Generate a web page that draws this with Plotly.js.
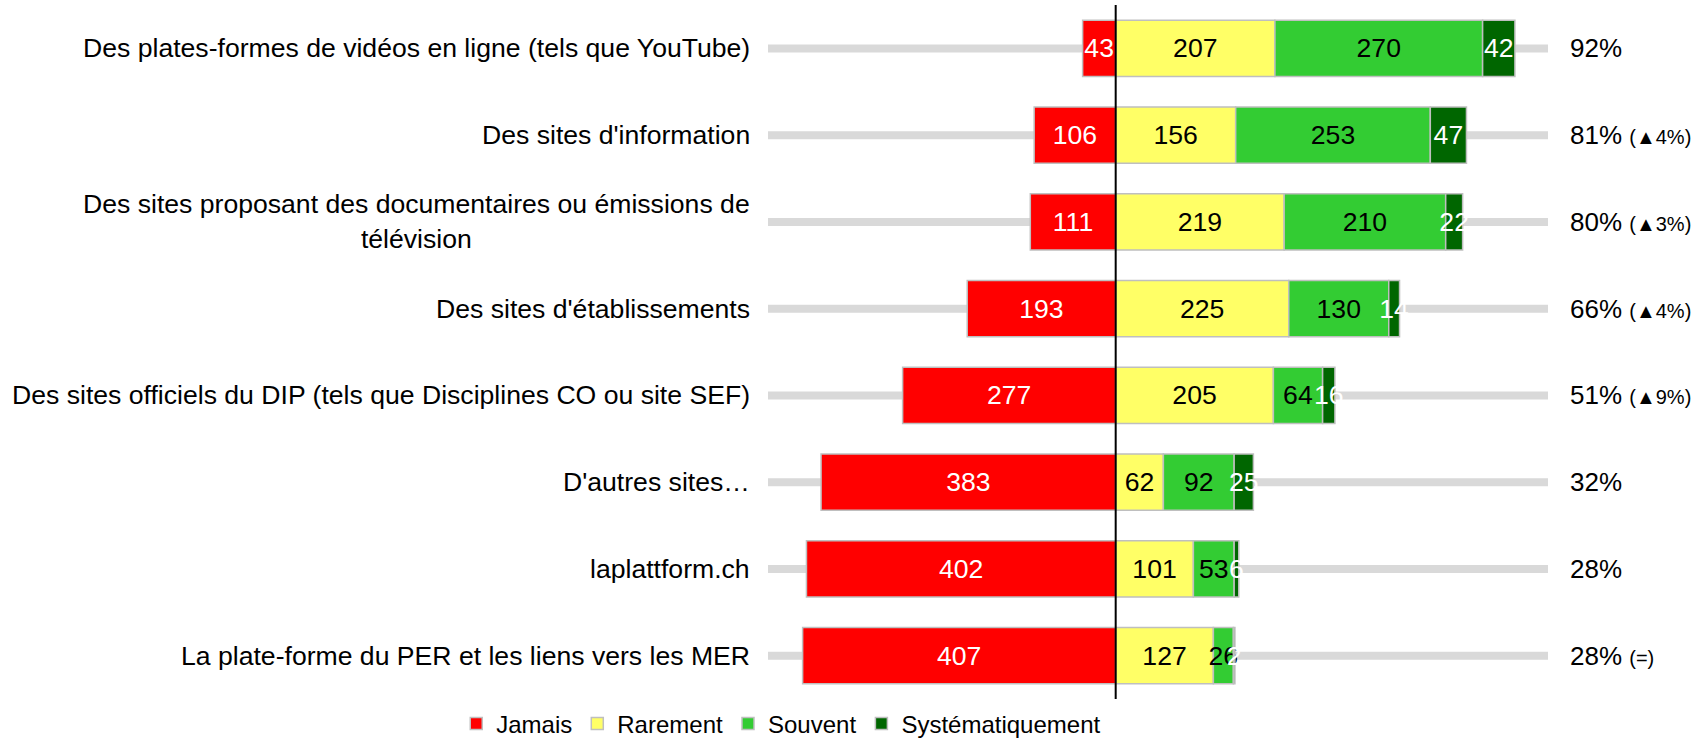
<!DOCTYPE html>
<html>
<head>
<meta charset="utf-8">
<script src="https://cdn.plot.ly/plotly-3.0.1.min.js"></script>
<style>
  html, body { margin: 0; padding: 0; background: #fff; }
  #chart { width: 1708px; height: 738px; }
</style>
</head>
<body>
<div id="chart"></div>
<script>
// Categories, top to bottom
const categories = [
  "Des plates-formes de vidéos en ligne (tels que YouTube)",
  "Des sites d'information",
  "Des sites proposant des documentaires ou émissions de<br>télévision",
  "Des sites d'établissements",
  "Des sites officiels du DIP (tels que Disciplines CO ou site SEF)",
  "D'autres sites…",
  "laplattform.ch",
  "La plate-forme du PER et les liens vers les MER"
];

// Counts per answer (N = 562)
const jamais = [43, 106, 111, 193, 277, 383, 402, 407];
const rarement = [207, 156, 219, 225, 205, 62, 101, 127];
const souvent = [270, 253, 210, 130, 64, 92, 53, 26];
const systematiquement = [42, 47, 22, 14, 16, 25, 6, 2];

// Right-hand labels
const pctLabels = ["92%", "81%", "80%", "66%", "51%", "32%", "28%", "28%"];
const deltaLabels = ["", "▲4%", "▲3%", "▲4%", "▲9%", "", "", "="];

const xMin = -452, xMax = 562;

const FONT = "Liberation Sans, Arial, sans-serif";
const idx = categories.map((_, i) => i);
const barLine = { color: '#bfbfbf', width: 1.5 };

function barTrace(name, values, color, textColor, negative) {
  return {
    type: 'bar',
    orientation: 'h',
    name: name,
    y: idx,
    x: negative ? values.map(v => -v) : values,
    text: values.map(String),
    texttemplate: '%{text}',
    textposition: 'inside',
    insidetextanchor: 'middle',
    constraintext: 'none',
    textangle: 0,
    insidetextfont: { family: FONT, size: 26.6, color: textColor },
    marker: { color: color, line: barLine },
    hoverinfo: 'name+text'
  };
}

const traces = [
  barTrace('Jamais', jamais, '#ff0000', '#ffffff', true),
  barTrace('Rarement', rarement, '#ffff66', '#000000', false),
  barTrace('Souvent', souvent, '#33cc33', '#000000', false),
  barTrace('Systématiquement', systematiquement, '#006600', '#ffffff', false)
];

// gray guide lines behind each row + zero line
const shapes = idx.map(i => ({
  type: 'line', layer: 'below',
  xref: 'x', yref: 'y', x0: xMin, x1: xMax, y0: i, y1: i,
  line: { color: '#d9d9d9', width: 8 }
}));
shapes.push({
  type: 'line', layer: 'above',
  xref: 'x', yref: 'paper', x0: 0, x1: 0, y0: 0, y1: 1,
  line: { color: '#000000', width: 2 }
});

const annotations = [];
categories.forEach((cat, i) => {
  annotations.push({
    xref: 'paper', yref: 'y', x: 0, y: i,
    xanchor: 'right', yanchor: 'middle', xshift: -16,
    align: 'center', showarrow: false,
    text: cat,
    font: { family: FONT, size: 26.6, color: '#000' }
  });
  const delta = deltaLabels[i] ? ' <span style="font-size:20px">(' + deltaLabels[i] + ')</span>' : '';
  annotations.push({
    xref: 'paper', yref: 'y', x: 1, y: i,
    xanchor: 'left', yanchor: 'middle', xshift: 20,
    align: 'left', showarrow: false,
    text: pctLabels[i] + delta,
    font: { family: FONT, size: 26, color: '#000' }
  });
});

const layout = {
  width: 1708,
  height: 738,
  margin: { l: 768, r: 160, t: 5, b: 39 },
  barmode: 'relative',
  bargap: 0.35,
  paper_bgcolor: '#ffffff',
  plot_bgcolor: '#ffffff',
  font: { family: FONT, size: 24, color: '#000' },
  showlegend: true,
  legend: {
    orientation: 'h',
    xref: 'paper', x: 0.017, xanchor: 'center',
    yref: 'container', y: 0.019, yanchor: 'middle',
    font: { family: FONT, size: 24, color: '#000' },
    itemwidth: 30,
    traceorder: 'normal'
  },
  xaxis: {
    range: [xMin, xMax],
    showgrid: false, zeroline: false, showticklabels: false, showline: false, ticks: ''
  },
  yaxis: {
    range: [categories.length - 0.5, -0.5],
    showgrid: false, zeroline: false, showticklabels: false, showline: false, ticks: ''
  },
  shapes: shapes,
  annotations: annotations
};

Plotly.newPlot('chart', traces, layout, { displayModeBar: false, staticPlot: true });
</script>
</body>
</html>
